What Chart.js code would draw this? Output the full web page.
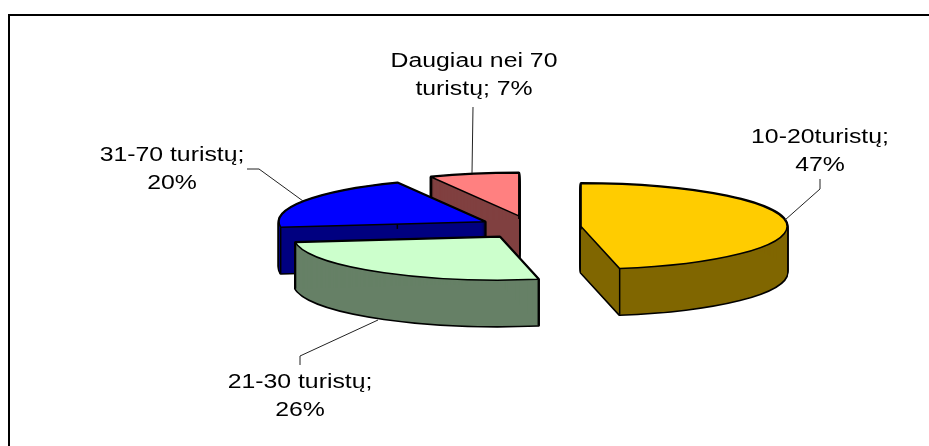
<!DOCTYPE html>
<html><head><meta charset="utf-8">
<style>html,body{margin:0;padding:0;background:#fff}canvas{display:block}</style>
<script src="https://cdn.jsdelivr.net/npm/chart.js@4"></script>
</head><body>
<canvas id="c" width="929" height="446"></canvas>
<script>
const categories = ["10-20turistų", "21-30 turistų", "31-70 turistų", "Daugiau nei 70 turistų"];
const shares = [47, 26, 20, 7];
const topColors = ["#FFCC00", "#CCFFCC", "#0000FF", "#FF8080"];
const wallColors = ["#806600", "#668066", "#000080", "#804040"];
const labelLines = [["10-20turistų;", "47%"], ["21-30 turistų;", "26%"], ["31-70 turistų;", "20%"], ["Daugiau nei 70", "turistų; 7%"]];
const labelCentres = [[820, 137], [300, 382], [172, 155], [474, 61]];
const leaders = [
  [[820, 179], [820, 189], [785, 220]],
  [[300, 365], [300, 356], [378, 320]],
  [[247, 169], [259, 169], [303, 201]],
  [[473, 107], [472, 173]]
];
const RY = 43, KOFF = 0.231, DEPTH = 46, LW = 1.5, TEXT_STRETCH = 1.24;

function apex(a) {
  const mid = (a.startAngle + a.endAngle) / 2, off = a.options.offset;
  return [a.x + Math.cos(mid) * off, a.y + Math.sin(mid) * off * KOFF];
}
function slicePath(ctx, a, dy) {
  const [x, y] = apex(a);
  ctx.beginPath();
  ctx.moveTo(x, y + dy);
  ctx.ellipse(x, y + dy, a.outerRadius, RY, 0, a.startAngle, a.endAngle);
  ctx.closePath();
}
const pie3d = {
  id: 'pie3d',
  beforeDatasetDraw(chart, args) {
    const ctx = chart.ctx, arcs = args.meta.data;
    ctx.save();
    ctx.lineJoin = 'round';
    [3, 2, 1, 0].forEach(i => {
      const a = arcs[i];
      ctx.strokeStyle = '#000';
      ctx.lineWidth = LW * 2;
      for (let d = 0; d <= DEPTH; d += 1) { slicePath(ctx, a, d); ctx.stroke(); }
      ctx.fillStyle = wallColors[i];
      for (let d = 0; d <= DEPTH; d += 1) { slicePath(ctx, a, d); ctx.fill(); }
      const [x, y] = apex(a);
      ctx.lineWidth = LW;
      [a.startAngle, a.endAngle].forEach(t => {
        const ex = x + Math.cos(t) * a.outerRadius, ey = y + Math.sin(t) * RY;
        ctx.beginPath(); ctx.moveTo(ex, ey); ctx.lineTo(ex, ey + DEPTH); ctx.stroke();
      });
      slicePath(ctx, a, 0);
      ctx.fillStyle = a.options.backgroundColor;
      ctx.fill();
      ctx.stroke();
    });
    ctx.restore();
    return false;
  },
  afterDraw(chart) {
    const ctx = chart.ctx;
    ctx.save();
    ctx.strokeStyle = '#000';
    ctx.lineWidth = 2;
    ctx.beginPath(); ctx.moveTo(929, 15); ctx.lineTo(9, 15); ctx.lineTo(9, 446); ctx.stroke();
    ctx.lineWidth = 1;
    ctx.strokeStyle = '#222';
    leaders.forEach(l => {
      ctx.beginPath();
      l.forEach((p, i) => i ? ctx.lineTo(p[0], p[1]) : ctx.moveTo(p[0], p[1]));
      ctx.stroke();
    });
    ctx.fillStyle = '#000';
    ctx.font = '20px "Liberation Sans", Arial, sans-serif';
    ctx.textAlign = 'center';
    ctx.textBaseline = 'middle';
    labelLines.forEach((ls, i) => ls.forEach((t, j) => {
      ctx.save();
      ctx.translate(labelCentres[i][0], labelCentres[i][1] + j * 28);
      ctx.scale(TEXT_STRETCH, 1);
      ctx.fillText(t, 0, 0);
      ctx.restore();
    }));
    ctx.restore();
  }
};
new Chart(document.getElementById('c'), {
  type: 'pie',
  data: { labels: categories, datasets: [{ data: shares, backgroundColor: topColors, borderWidth: 0, offset: 51.3, radius: 206, clip: false }] },
  options: {
    responsive: false, animation: false, radius: 206,
    layout: { padding: { left: 131, top: 9 } },
    plugins: { legend: { display: false }, tooltip: { enabled: false } }
  },
  plugins: [pie3d]
});
</script>
</body></html>
